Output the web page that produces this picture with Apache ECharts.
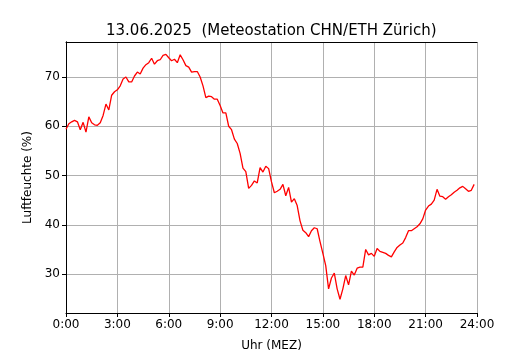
<!DOCTYPE html>
<html>
<head>
<meta charset="utf-8">
<script src="https://cdn.jsdelivr.net/npm/echarts@6/dist/echarts.min.js"></script>
<style>
  html, body { margin: 0; padding: 0; background: #fff; }
  #chart { width: 530px; height: 350px; }
</style>
</head>
<body>
<div id="chart"></div>
<script>
// Luftfeuchte, 10-Minuten-Werte ab 0:00
var humidity = [
  59.4, 60.5, 60.9, 61.2, 60.9, 59.3, 60.8, 58.8, 61.9, 60.7, 60.3, 60.2,
  60.7, 62.2, 64.5, 63.3, 66.3, 67.0, 67.4, 68.2, 69.6, 70.0, 69.0, 69.0,
  70.2, 71.0, 70.6, 71.8, 72.5, 72.9, 73.8, 72.6, 73.3, 73.5, 74.4, 74.6,
  73.9, 73.3, 73.6, 72.9, 74.5, 73.5, 72.3, 72.0, 71.0, 71.1, 71.1, 70.0,
  68.2, 65.8, 66.1, 66.0, 65.5, 65.5, 64.2, 62.7, 62.7, 60.0, 59.3, 57.4,
  56.5, 54.5, 51.5, 50.8, 47.4, 48.0, 48.9, 48.5, 51.6, 50.7, 51.9, 51.4,
  48.7, 46.5, 46.8, 47.2, 48.2, 45.9, 47.6, 44.6, 45.3, 43.9, 40.8, 38.9,
  38.4, 37.6, 38.8, 39.4, 39.2, 36.6, 34.2, 31.7, 27.0, 29.2, 30.2, 27.0,
  24.9, 27.0, 29.7, 27.8, 30.6, 29.8, 31.2, 31.4, 31.4, 35.0, 33.9, 34.2,
  33.6, 35.2, 34.6, 34.4, 34.2, 33.8, 33.5, 34.5, 35.4, 35.9, 36.3, 37.4,
  38.8, 38.8, 39.2, 39.6, 40.2, 41.2, 43.0, 43.8, 44.2, 45.0, 47.2, 45.8,
  45.7, 45.2, 45.7, 46.1, 46.6, 47.0, 47.5, 47.8, 47.3, 46.8, 47.0, 48.2
];
var stepMinutes = 10;
var hourTicks = [0, 3, 6, 9, 12, 15, 18, 21, 24];
var humTicks = [30, 40, 50, 60, 70];

var points = [];
for (var i = 0; i < humidity.length; i++) {
    points.push([i * stepMinutes / 60, humidity[i]]);
}

var font = 'DejaVu Sans';
var myChart = echarts.init(document.getElementById('chart'), null, {renderer: 'canvas'});

var option = {
    animation: false,
    backgroundColor: '#fff',
    title: {
        text: '13.06.2025  (Meteostation CHN/ETH Zürich)',
        left: 101,
        top: 19,
        textStyle: {fontFamily: font, fontSize: 15, fontWeight: 'normal', color: '#000'}
    },
    grid: {left: 66, right: 53, top: 42, bottom: 37, containLabel: false, outerBoundsMode: 'none'},
    xAxis: [{
        type: 'value',
        min: 0,
        max: 24,
        interval: 3,
        name: 'Uhr (MEZ)',
        nameLocation: 'middle',
        nameGap: 26.5,
        nameTextStyle: {fontFamily: font, fontSize: 12, color: '#000'},
        axisLine: {show: true, lineStyle: {color: '#000', width: 1}},
        axisTick: {show: true, length: 4, lineStyle: {color: '#000'}},
        axisLabel: {
            fontFamily: font, fontSize: 12, color: '#000', margin: 6,
            formatter: function (v) { return hourTicks.indexOf(v) >= 0 ? v + ':00' : ''; }
        },
        splitLine: {show: true, lineStyle: {color: '#b0b0b0', width: 1}}
    }, {
        type: 'value',
        position: 'top',
        min: 0,
        max: 24,
        axisLine: {show: true, lineStyle: {color: '#000', width: 1}},
        axisTick: {show: false},
        axisLabel: {show: false},
        splitLine: {show: false}
    }],
    yAxis: [{
        type: 'value',
        min: 22.1,
        max: 77.1,
        splitNumber: 5,
        name: 'Luftfeuchte (%)',
        nameLocation: 'middle',
        nameGap: 32,
        nameTextStyle: {fontFamily: font, fontSize: 12, color: '#000'},
        axisLine: {show: true, lineStyle: {color: '#000', width: 1}},
        axisTick: {show: true, length: 4, lineStyle: {color: '#000'}},
        axisLabel: {
            fontFamily: font, fontSize: 12, color: '#000', margin: 6,
            showMinLabel: false, showMaxLabel: false,
            formatter: function (v) { return humTicks.indexOf(v) >= 0 ? String(v) : ''; }
        },
        splitLine: {show: true, lineStyle: {color: '#b0b0b0', width: 1}}
    }, {
        type: 'value',
        position: 'right',
        min: 22.1,
        max: 77.1,
        axisLine: {show: true, lineStyle: {color: '#000', width: 1}},
        axisTick: {show: false},
        axisLabel: {show: false},
        splitLine: {show: false}
    }],
    series: [{
        type: 'line',
        data: points,
        showSymbol: false,
        symbol: 'none',
        lineStyle: {color: '#ff0000', width: 1.3},
        itemStyle: {color: '#ff0000'}
    }]
};

myChart.setOption(option);
</script>
</body>
</html>
